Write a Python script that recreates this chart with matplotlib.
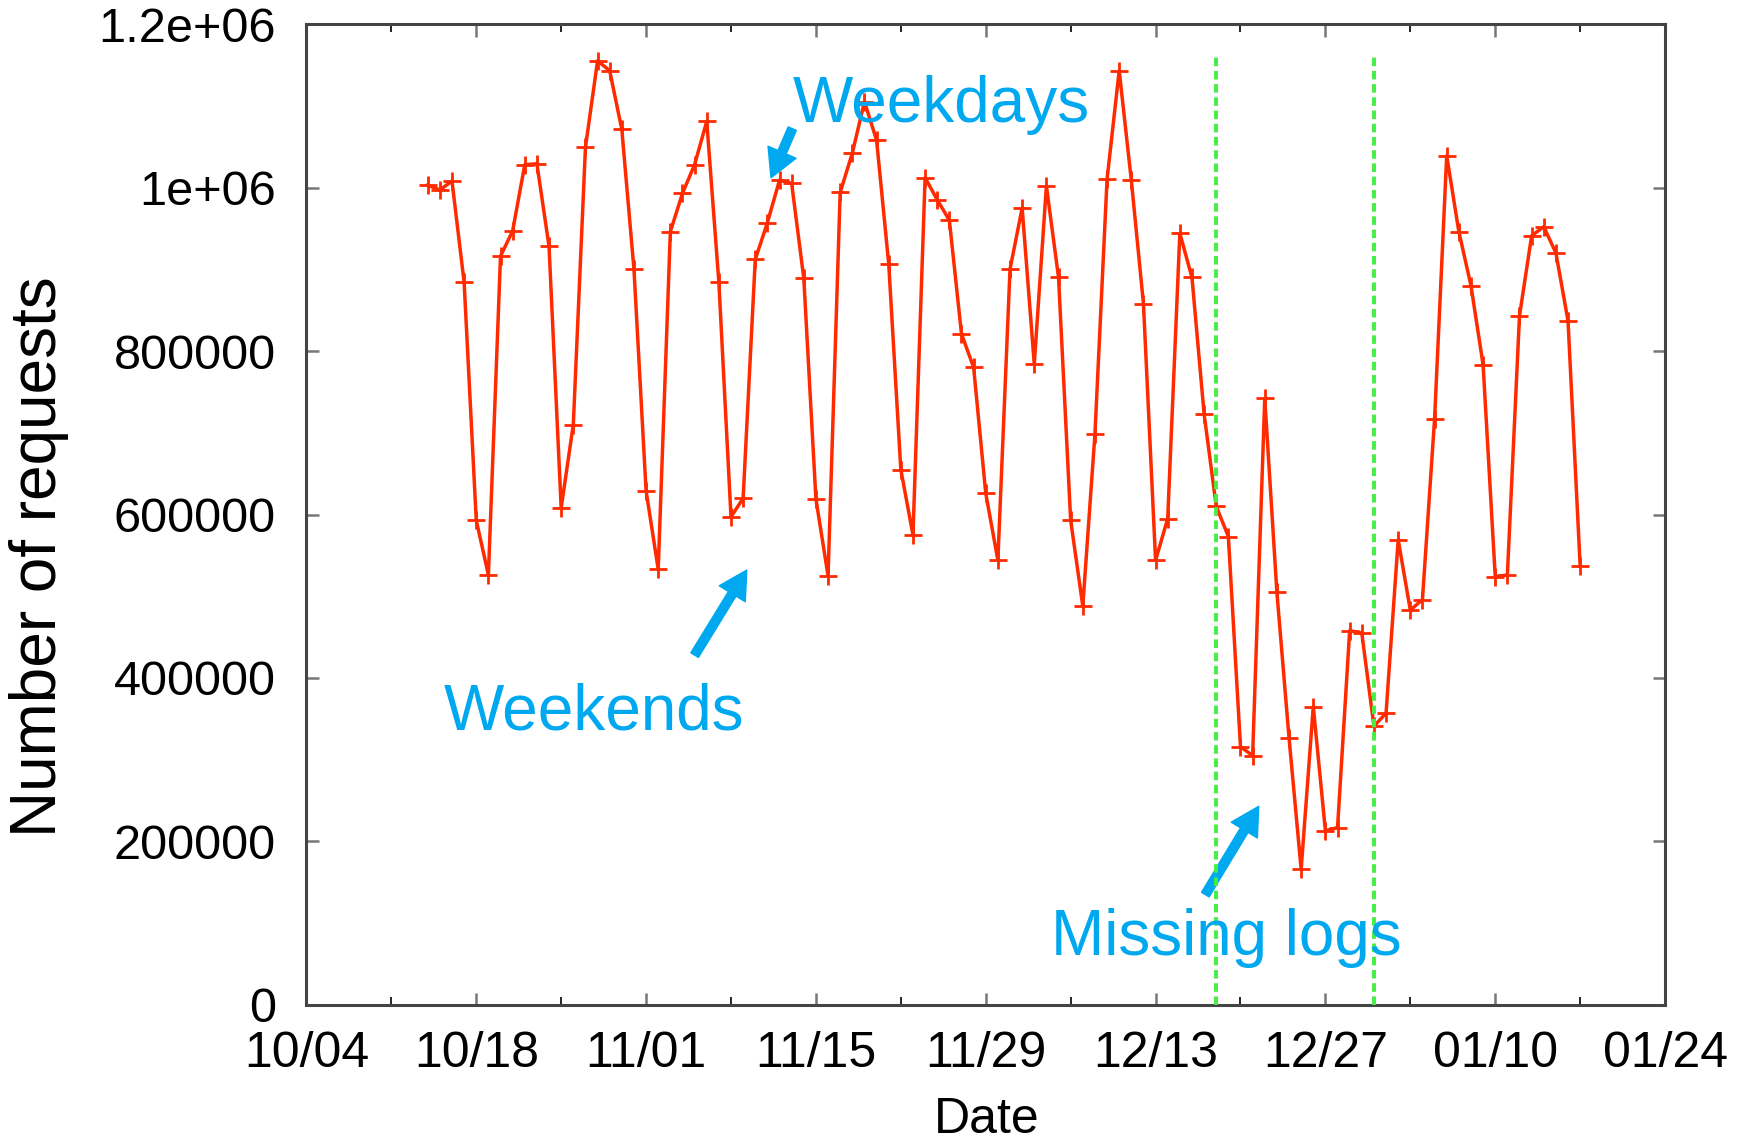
import numpy as np
import pandas as pd
import matplotlib.pyplot as plt
import matplotlib.dates as mdates

# daily request counts, 2008-10-14 .. 2009-01-17
requests = [1003000, 997000, 1008000, 884000, 593000, 526000, 916000,
            947000, 1028000, 1029000, 928000, 608000, 710000, 1049000,
            1155000, 1143000, 1071000, 900000, 629000, 533000, 946000,
            993000, 1028000, 1081000, 884000, 597000, 620000, 912000,
            957000, 1009000, 1005000, 889000, 619000, 525000, 994000,
            1042000, 1105000, 1058000, 907000, 655000, 575000, 1012000,
            985000, 960000, 821000, 780000, 626000, 544000, 900000,
            975000, 784000, 1002000, 890000, 593000, 488000, 698000,
            1010000, 1143000, 1009000, 858000, 544000, 595000, 944000,
            890000, 723000, 610000, 573000, 316000, 305000, 742000,
            505000, 327000, 166000, 365000, 213000, 217000, 458000,
            455000, 341000, 357000, 569000, 483000, 496000, 717000,
            1039000, 946000, 880000, 783000, 524000, 526000, 843000,
            941000, 952000, 920000, 837000, 537000]
days = pd.date_range('2008-10-14', periods=len(requests), freq='D')

missing_logs = pd.to_datetime(['2008-12-18', '2008-12-31'])

xmajor = pd.date_range('2008-10-04', '2009-01-24', freq='14D')
xminor = pd.date_range('2008-10-11', '2009-01-17', freq='14D')
yticks = [0, 200000, 400000, 600000, 800000, 1000000, 1200000]
ylabels = ['0', '200000', '400000', '600000', '800000', '1e+06', '1.2e+06']

plt.rcParams['font.family'] = ['Liberation Sans', 'DejaVu Sans']

blue = '#00a8f0'
red = '#ff2a00'

fig = plt.figure(figsize=(17.47, 11.45), dpi=100)
ax = fig.add_axes([0.1754, 0.1223, 0.7777, 0.8567])

ax.plot(days, requests, color=red, lw=2.5, marker='+', ms=13, mew=2.0, zorder=3)
ax.vlines(missing_logs, 0, 1.16e6, colors='#44ee44', lw=2.8,
          linestyles=[(0, (2.2, 1.2))], zorder=4)

ax.set_xlim(xmajor[0], xmajor[-1])
ax.set_ylim(0, 1.2e6)
ax.set_xticks(xmajor)
ax.set_xticks(xminor, minor=True)
ax.xaxis.set_major_formatter(mdates.DateFormatter('%m/%d'))
ax.set_yticks(yticks)
ax.set_yticklabels(ylabels)

ax.tick_params(axis='both', which='major', direction='in', top=True, right=True,
               length=9, width=1.8, color='#777777')
ax.tick_params(axis='x', which='major', labelsize=36, pad=19)
ax.tick_params(axis='y', which='major', labelsize=35, pad=22)
ax.tick_params(axis='x', which='minor', direction='in', top=True,
               length=6, width=1.2, color='black')
for s in ax.spines.values():
    s.set_color('#444444')
    s.set_linewidth(2.2)

ax.set_xlabel('Date', fontsize=36)
ax.xaxis.set_label_coords(0.501, -0.117)
ax.xaxis.label.set_va('center')
ax.set_ylabel('Number of requests', fontsize=46)
ax.yaxis.set_label_coords(-0.197, 0.457)
ax.yaxis.label.set_va('center')

# annotations (x in days after 10/04)
d0 = mdates.date2num(pd.Timestamp('2008-10-04'))
arrow = dict(arrowstyle='simple,head_length=1.0,head_width=1.1,tail_width=0.32',
             color=blue, shrinkA=0, shrinkB=0, mutation_scale=20)

ax.text(d0 + 40.1, 1.080e6, 'Weekdays', color=blue, fontsize=46,
        ha='left', va='baseline', zorder=5)
ax.annotate('', xy=(d0 + 38.3, 1.012e6), xytext=(d0 + 40.05, 1.072e6),
            arrowprops=arrow)

ax.text(d0 + 11.3, 337000, 'Weekends', color=blue, fontsize=46,
        ha='left', va='baseline', zorder=5)
ax.annotate('', xy=(d0 + 36.3, 532000), xytext=(d0 + 32.0, 428000),
            arrowprops=arrow)

ax.text(d0 + 61.4, 61000, 'Missing logs', color=blue, fontsize=46,
        ha='left', va='baseline', zorder=5)
ax.annotate('', xy=(d0 + 78.5, 243000), xytext=(d0 + 74.1, 135000),
            arrowprops=arrow)

fig.savefig('out.png', dpi=100, facecolor='white')
